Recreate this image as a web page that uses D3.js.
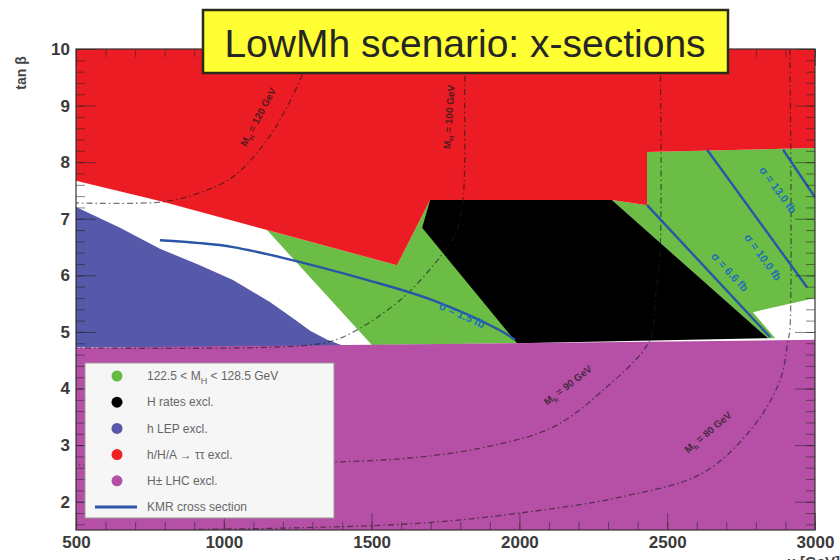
<!DOCTYPE html>
<html>
<head>
<meta charset="utf-8">
<script src="https://cdn.jsdelivr.net/npm/d3@7"></script>
<style>
  body { margin: 0; background: #fff; }
  svg { display: block; font-family: "Liberation Sans", Arial, sans-serif; }
  .axis text { font-size: 17px; font-weight: bold; fill: #3a3a3a; }
  .axis path { display: none; }
  .axis line { stroke: #222; }
</style>
</head>
<body>
<div id="chart"></div>
<script>
/*
 *  LowMh scenario: excluded regions in the (mu, tan beta) plane
 */

// ---- region outlines, [mu (GeV), tan beta] ----
var tauExcl = [[500,10],[3000,10],[3000,8.25],[2432,8.18],[2432,7.24],[2313,7.33],
               [1698,7.33],[1586,6.18],[1146,6.80],[794,7.30],[500,7.67]];
var massWindowLeft = [[1146,6.80],[1586,6.18],[1698,7.33],[2002,4.80],[1501,4.77]];
var massWindowRight = [[2313,7.33],[2432,7.24],[2432,8.18],[3000,8.25],[3000,5.60],
                       [2790,5.35],[2865,4.89],[2841,4.89]];
var hRatesExcl = [[1698,7.33],[1900,7.36],[2026,7.42],[2060,7.36],[2313,7.33],
                  [2841,4.89],[1992,4.80],[1671,6.84]];
var lepExcl = [[500,7.21],[649,6.84],[784,6.47],[919,6.18],[1031,5.92],[1156,5.53],
               [1240,5.22],[1292,5.02],[1350,4.86],[1417,4.73],[500,4.73]];
var chargedExcl = [[500,4.72],[3000,4.86],[3000,1.5],[500,1.5]];

// ---- KMR cross section lines ----
var kmr15 = [[784,6.62],[919,6.57],[1031,6.50],[1200,6.31],[1484,5.92],[1708,5.56],[1934,5.03],[1985,4.86]];
var kmr66 = [[2432,7.24],[2848,4.91]];
var kmr100 = [[2635,8.22],[2973,5.79]];
var kmr130 = [[2892,8.22],[3000,7.38]];
var kmrLines = [kmr15, kmr66, kmr100, kmr130];
var kmrLabels = ["σ = 1.5 fb", "σ = 6.6 fb", "σ = 10.0 fb", "σ = 13.0 fb"];
var kmrLabelPos = [[1806,5.30,24], [2712,6.06,47], [2824,6.32,54], [2875,7.51,54]];

// ---- mass contours ----
var mass120 = [[1292,10],[1268,9.58],[1214,8.98],[1146,8.39],[1031,7.74],[919,7.46],[794,7.30],[500,7.28]];
var mass100 = [[1823,10],[1816,9.58],[1809,7.33],[1782,6.71],[1731,6.32],[1596,5.56],[1403,4.91],[1292,4.77],[500,4.72]];
var mass90 = [[2476,10],[2476,6.45],[2459,5.56],[2442,4.86],[2283,3.97],[2114,3.32],[1890,2.97],[1664,2.79],[1369,2.70],[500,2.65]];
var mass80 = [[2915,10],[2915,5.03],[2909,4.86],[2882,4.15],[2790,3.32],[2621,2.51],[2340,2.08],[2002,1.80],[1664,1.62],[1258,1.54],[900,1.51]];
var massLines = [mass120, mass100, mass90, mass80];
var massNames = [["M", "H", " = 120 GeV"], ["M", "H", " = 100 GeV"], ["M", "h", " = 90 GeV"], ["M", "h", " = 80 GeV"]];
var massLabelPos = [[1116,8.80,-62], [1762,8.80,-86], [2164,4.06,-38], [2638,3.23,-40]];

// ---- axes ----
var xTicks = [500, 1000, 1500, 2000, 2500, 3000];
var yTicks = [2, 3, 4, 5, 6, 7, 8, 9, 10];

// ---- legend ----
var legendLabels = ["122.5 < M_H < 128.5 GeV", "H rates excl.", "h LEP excl.",
                    "h/H/A → ττ excl.", "H± LHC excl.", "KMR cross section"];
var legendColors = ["#66bb44", "#000000", "#5557a8", "#ee2026", "#b34fa4", "#2f55a4"];

var colors = {
  green: "#6cbd45", black: "#000", blue: "#5658a9",
  red: "#ec1c24", magenta: "#b64fa6", kmr: "#2a56a6"
};

var width = 840, height = 560;
var margin = {top: 49, right: 25, bottom: 30, left: 76};

var x = d3.scaleLinear().domain([500, 3000]).range([margin.left, width - margin.right]);
var y = d3.scaleLinear().domain([1.5, 10]).range([height - margin.bottom, margin.top]);

var svg = d3.select("#chart").append("svg")
            .attr("width", width)
            .attr("height", height);

svg.append("clipPath").attr("id", "plot-clip")
   .append("rect")
   .attr("x", x(500)).attr("y", y(10))
   .attr("width", x(3000) - x(500))
   .attr("height", y(1.5) - y(10));

var plot = svg.append("g").attr("clip-path", "url(#plot-clip)");

var area = d3.line()
             .x(function(d) { return x(d[0]); })
             .y(function(d) { return y(d[1]); });

var curve = d3.line()
              .curve(d3.curveCatmullRom)
              .x(function(d) { return x(d[0]); })
              .y(function(d) { return y(d[1]); });

// filled regions, painted back to front
var regions = [
  [massWindowLeft, colors.green],
  [massWindowRight, colors.green],
  [hRatesExcl, colors.black],
  [tauExcl, colors.red],
  [lepExcl, colors.blue],
  [chargedExcl, colors.magenta]
];
plot.selectAll("path.region")
    .data(regions)
    .enter().append("path")
    .attr("class", "region")
    .attr("d", function(d) { return area(d[0]) + "Z"; })
    .attr("fill", function(d) { return d[1]; });

// mass contours (dash-dot)
plot.selectAll("path.mass")
    .data(massLines)
    .enter().append("path")
    .attr("class", "mass")
    .attr("d", curve)
    .attr("fill", "none")
    .attr("stroke", "#1a1a1a")
    .attr("stroke-opacity", 0.6)
    .attr("stroke-width", 1.3)
    .attr("stroke-dasharray", "6,3,1.5,3");

// KMR cross section lines
plot.selectAll("path.kmr")
    .data(kmrLines)
    .enter().append("path")
    .attr("class", "kmr")
    .attr("d", curve)
    .attr("fill", "none")
    .attr("stroke", colors.kmr)
    .attr("stroke-width", 2.4);

plot.selectAll("text.kmr-label")
    .data(kmrLabels)
    .enter().append("text")
    .attr("class", "kmr-label")
    .attr("transform", function(d, i) {
      var p = kmrLabelPos[i];
      return "translate(" + x(p[0]) + "," + y(p[1]) + ") rotate(" + p[2] + ")";
    })
    .attr("text-anchor", "middle")
    .attr("dy", "0.35em")
    .style("font-size", "11px")
    .style("font-weight", "bold")
    .style("fill", "#1d6fb8")
    .text(function(d) { return d; });

var massLabel = plot.selectAll("text.mass-label")
    .data(massNames)
    .enter().append("text")
    .attr("class", "mass-label")
    .attr("transform", function(d, i) {
      var p = massLabelPos[i];
      return "translate(" + x(p[0]) + "," + y(p[1]) + ") rotate(" + p[2] + ")";
    })
    .attr("text-anchor", "middle")
    .attr("dy", "0.35em")
    .style("font-size", "10px")
    .style("font-weight", "bold")
    .style("fill", "#1a1a1a")
    .style("fill-opacity", 0.75);
massLabel.append("tspan").text(function(d) { return d[0]; });
massLabel.append("tspan").attr("dy", 3).style("font-size", "7px").text(function(d) { return d[1]; });
massLabel.append("tspan").attr("dy", -3).text(function(d) { return d[2]; });

// ticks: major + minor on all four sides, pointing inward
function minor(step, lo, hi) {
  return d3.range(lo, hi + step / 2, step);
}
var xMinor = minor(100, 500, 3000);
var yMinor = minor(0.2, 1.6, 10);

svg.append("g").attr("class", "axis")
   .attr("transform", "translate(0," + y(1.5) + ")")
   .call(d3.axisBottom(x).tickValues(xTicks).tickSize(-17).tickPadding(6).tickFormat(d3.format("d")));
svg.append("g").attr("class", "axis")
   .attr("transform", "translate(0," + y(1.5) + ")")
   .call(d3.axisBottom(x).tickValues(xMinor).tickSize(-8).tickFormat(""));
svg.append("g").attr("class", "axis")
   .attr("transform", "translate(0," + y(10) + ")")
   .call(d3.axisTop(x).tickValues(xTicks).tickSize(-17).tickFormat(""));
svg.append("g").attr("class", "axis")
   .attr("transform", "translate(0," + y(10) + ")")
   .call(d3.axisTop(x).tickValues(xMinor).tickSize(-8).tickFormat(""));

svg.append("g").attr("class", "axis")
   .attr("transform", "translate(" + x(500) + ",0)")
   .call(d3.axisLeft(y).tickValues(yTicks).tickSize(-20).tickPadding(6).tickFormat(d3.format("d")));
svg.append("g").attr("class", "axis")
   .attr("transform", "translate(" + x(500) + ",0)")
   .call(d3.axisLeft(y).tickValues(yMinor).tickSize(-9).tickFormat(""));
svg.append("g").attr("class", "axis")
   .attr("transform", "translate(" + x(3000) + ",0)")
   .call(d3.axisRight(y).tickValues(yTicks).tickSize(-20).tickFormat(""));
svg.append("g").attr("class", "axis")
   .attr("transform", "translate(" + x(3000) + ",0)")
   .call(d3.axisRight(y).tickValues(yMinor).tickSize(-9).tickFormat(""));

svg.selectAll(".axis line").style("stroke-opacity", 0.55);

// frame
svg.append("rect")
   .attr("x", x(500)).attr("y", y(10))
   .attr("width", x(3000) - x(500))
   .attr("height", y(1.5) - y(10))
   .attr("fill", "none")
   .attr("stroke", "#333")
   .attr("stroke-width", 1.2);

// axis titles
svg.append("text")
   .attr("transform", "translate(26,73) rotate(-90)")
   .attr("text-anchor", "middle")
   .style("font-size", "14px")
   .style("font-weight", "bold")
   .style("fill", "#444")
   .text("tan β");

svg.append("text")
   .attr("x", 840).attr("y", 567)
   .attr("text-anchor", "end")
   .style("font-size", "15px")
   .style("font-weight", "bold")
   .style("fill", "#444")
   .text("μ [GeV]");

// legend
var legend = svg.append("g").attr("transform", "translate(85,363)");
legend.append("rect")
      .attr("width", 249).attr("height", 155)
      .attr("fill", "#f6f6f6")
      .attr("stroke", "#999")
      .attr("stroke-width", 1);

var row = legend.selectAll("g.row")
    .data(legendLabels)
    .enter().append("g")
    .attr("class", "row")
    .attr("transform", function(d, i) { return "translate(0," + (13 + i * 26.2) + ")"; });

row.filter(function(d, i) { return i < 5; })
   .append("circle")
   .attr("cx", 32).attr("r", 5.5)
   .attr("fill", function(d, i) { return legendColors[i]; });

row.filter(function(d, i) { return i == 5; })
   .append("line")
   .attr("x1", 10).attr("x2", 52)
   .attr("stroke", legendColors[5])
   .attr("stroke-width", 3);

var rowText = row.append("text")
   .attr("x", 62)
   .attr("dy", "0.35em")
   .style("font-size", "12px")
   .style("fill", "#666");
rowText.each(function(d) {
  var t = d3.select(this);
  if (d.indexOf("M_H") >= 0) {
    var parts = d.split("M_H");
    t.append("tspan").text(parts[0] + "M");
    t.append("tspan").attr("dy", 4).style("font-size", "9px").text("H");
    t.append("tspan").attr("dy", -4).text(parts[1]);
  } else {
    t.text(d);
  }
});

// title box
svg.append("rect")
   .attr("x", 203).attr("y", 10)
   .attr("width", 525).attr("height", 63)
   .attr("fill", "#ffff33")
   .attr("stroke", "#2a2a1a")
   .attr("stroke-width", 2.5);
svg.append("text")
   .attr("x", 465).attr("y", 57)
   .attr("text-anchor", "middle")
   .style("font-size", "39px")
   .style("fill", "#262626")
   .text("LowMh scenario: x-sections");
</script>
</body>
</html>
